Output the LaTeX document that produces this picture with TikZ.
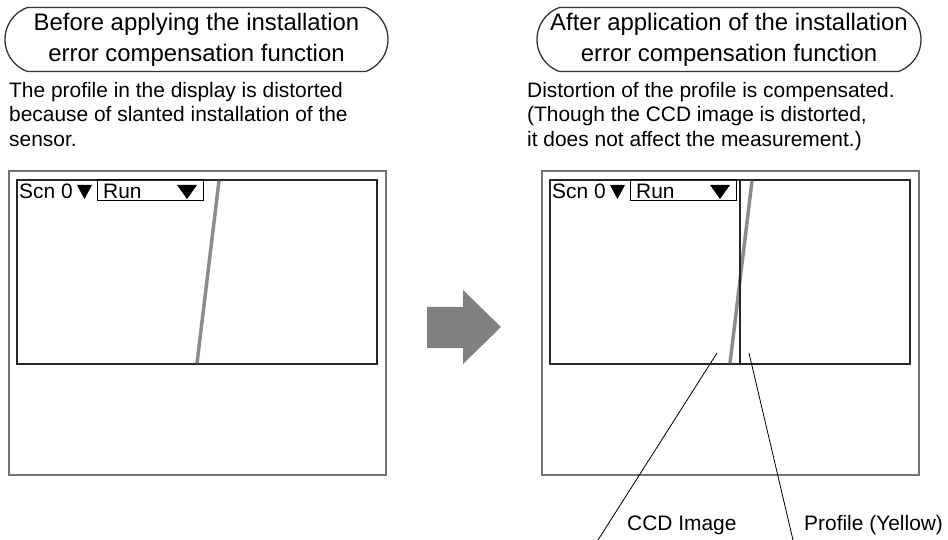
\documentclass[tikz,border=0pt]{standalone}
\usepackage{fontspec}
\setmainfont{Liberation Sans}
\usetikzlibrary{shapes.misc}

\begin{document}
\begin{tikzpicture}[x=1bp,y=-1bp,
  bubble/.style={draw=black!80,line width=1.3bp,rounded rectangle,rounded rectangle arc length=140,
    minimum height=64bp,inner xsep=0pt,align=center,font=\fontsize{24}{31}\selectfont},
  note/.style={anchor=north west,inner sep=0pt,align=left,font=\fontsize{21}{25}\selectfont},
  label/.style={anchor=base west,inner sep=0pt,font=\fontsize{21}{25}\selectfont},
  scrtext/.style={anchor=base west,inner sep=0pt,font=\fontsize{21}{24}\selectfont}]
\useasboundingbox (0,0) rectangle (948,540);
% headings
\node[bubble,minimum width=383bp] (t0) at (196.5,39.5) {Before applying the installation\\error compensation function};
\node[bubble,minimum width=384bp] (t1) at (729,39.5) {After application of the installation\\error compensation function};
\node[note] (d0) at (9,81.7) {The profile in the display is distorted\\because of slanted installation of the\\sensor.};
\node[note] (d1) at (527,81.7) {Distortion of the profile is compensated.\\(Though the CCD image is distorted,\\it does not affect the measurement.)};
% the two screens
\foreach \dx/\i in {0/0,533/1} {
  \draw[black!55,line width=2bp] ({9+\dx},171) rectangle ({386+\dx},475);
  \draw[black!85,line width=1.3bp] ({17+\dx},180) rectangle ({377+\dx},364);
  \draw[black!45,line width=3.5bp] ({219+\dx},180.7) -- ({197+\dx},363.3);
  \draw[line width=1bp] ({97+\dx},180) rectangle ({203+\dx},201);
  \node[scrtext] (scn\i) at ({19+\dx},199) {Scn 0};
  \node[scrtext] (run\i) at ({103+\dx},199) {Run};
  \fill ({77+\dx},185) -- ({92+\dx},185) -- ({84.5+\dx},199) -- cycle;
  \fill ({177+\dx},185) -- ({197+\dx},185) -- ({187+\dx},199) -- cycle;
}
\draw[black!85,line width=1.3bp] (740,180) -- (740,364);
% arrow
\fill[gray] (427,307) -- (463,307) -- (463,290) -- (501,327) -- (463,364) -- (463,348) -- (427,348) -- cycle;
% leaders
\coordinate (ccd) at (717,353);
\coordinate (ccdend) at (598,540);
\coordinate (prof) at (749,353);
\coordinate (profend) at (793,540);
\draw[line width=0.8bp] (ccd) -- (ccdend);
\draw[line width=0.8bp] (prof) -- (profend);
\node[label] (l0) at (627,530) {CCD Image};
\node[label] (l1) at (804,530) {Profile (Yellow)};
\end{tikzpicture}
\end{document}
